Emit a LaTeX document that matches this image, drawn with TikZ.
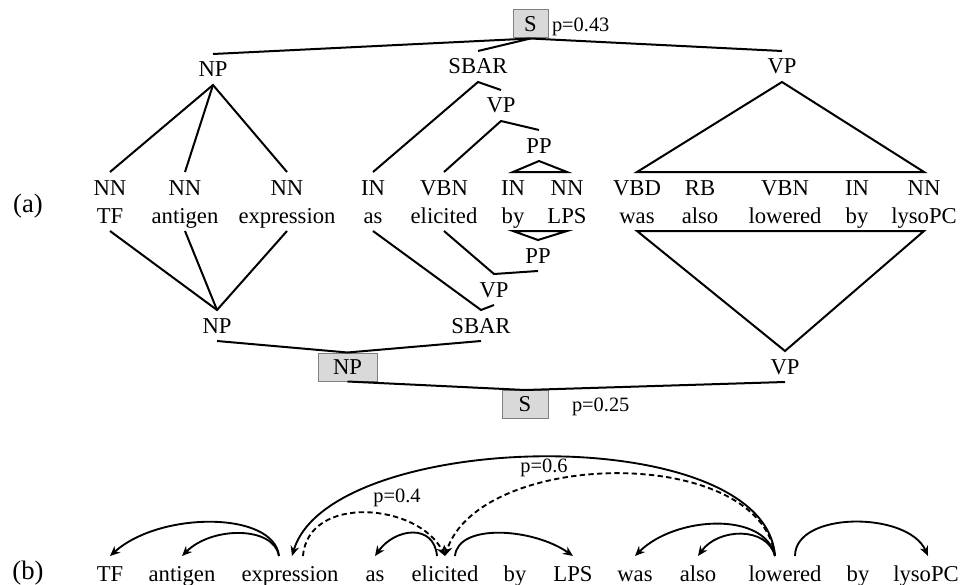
\documentclass[tikz,border=0pt]{standalone}
\usepackage{fontspec}
\setmainfont{Liberation Serif}
\usetikzlibrary{arrows.meta}

\tikzset{every picture/.style={line width=1.5pt}}
\tikzset{
  lbl/.style={anchor=base, inner xsep=1pt, inner ysep=5.25pt, text height=11.25pt, text depth=0pt, font=\fontsize{17}{20}\selectfont},
  wrd/.style={lbl, inner ysep=6.75pt},
  boxnd/.style={draw={rgb, 255:red, 128; green, 128; blue, 128}, line width=0.75pt, fill={rgb, 255:red, 217; green, 217; blue, 217}, minimum height=21pt, inner sep=0pt, font=\fontsize{17}{20}\selectfont},
  plbl/.style={anchor=base west, inner sep=0.75pt, font=\fontsize{15.3}{18}\selectfont},
  deparc/.style={-{Stealth[length=7.5pt,width=6.5pt]}, line width=1.4pt},
  deparcd/.style={deparc, dash pattern=on 4pt off 2.5pt}
}

\begin{document}
\begin{tikzpicture}[x=0.75pt,y=0.75pt,yscale=-1,xscale=1]
\useasboundingbox (0,0) rectangle (960,585);

% Text Node
\draw (28,206) node (lblA) [font=\fontsize{20}{24}\selectfont] {(a)};
\draw (28,573) node (lblB) [font=\fontsize{20}{24}\selectfont] {(b)};

%Shape: Rectangle
\node (sTop) [boxnd, minimum width=26.25pt] at (530.5,24) {S};
\node (npBox) [boxnd, minimum width=44.25pt] at (347.5,367) {NP};
\node (sBot) [boxnd, minimum width=34.5pt] at (525,404.5) {S};
% Text Node
\draw (550,32) node (pTop) [plbl] {p=0.43};
\draw (570,411) node (pBot) [plbl] {p=0.25};

% Text Node - upper phrases
\node (npT) [lbl] at (213,77) {NP};
\node (sbarT) [lbl] at (478,74) {SBAR};
\node (vpT) [lbl] at (782,74) {VP};
\node (vpM) [lbl] at (501,113) {VP};
\node (ppT) [lbl] at (539,153) {PP};

% Text Node - tags
\node (tTF) [lbl] at (110,195) {NN};
\node (tAnt) [lbl] at (185,195) {NN};
\node (tExp) [lbl] at (287,195) {NN};
\node (tAs) [lbl] at (373,195) {IN};
\node (tEli) [lbl] at (444,195) {VBN};
\node (tBy) [lbl] at (513,195) {IN};
\node (tLPS) [lbl] at (567,195) {NN};
\node (tWas) [lbl] at (637,195) {VBD};
\node (tAlso) [lbl] at (700,195) {RB};
\node (tLow) [lbl] at (785,195) {VBN};
\node (tBy2) [lbl] at (857,195) {IN};
\node (tLyso) [lbl] at (924,195) {NN};

% Text Node - words
\node (wTF) [lbl] at (110,223) {TF};
\node (wAnt) [lbl] at (185,223) {antigen};
\node (wExp) [lbl] at (287,223) {expression};
\node (wAs) [lbl] at (373,223) {as};
\node (wEli) [lbl] at (444,223) {elicited};
\node (wBy) [lbl] at (513,223) {by};
\node (wLPS) [lbl] at (567,223) {LPS};
\node (wWas) [lbl] at (637,223) {was};
\node (wAlso) [lbl] at (700,223) {also};
\node (wLow) [lbl] at (785,223) {lowered};
\node (wBy2) [lbl] at (857,223) {by};
\node (wLyso) [lbl] at (924,223) {lysoPC};

% Text Node - lower phrases
\node (ppB) [lbl] at (538,263) {PP};
\node (vpB) [lbl] at (494,297) {VP};
\node (npB) [lbl] at (217,333) {NP};
\node (sbarB) [lbl] at (481,333) {SBAR};
\node (vpR) [lbl] at (785,374) {VP};

%Straight Lines - upper tree
\draw (sTop.south) -- (npT.north);
\draw (sTop.south) -- (sbarT.north);
\draw (sTop.south) -- (vpT.north);
\draw (tTF.north) -- (npT.south) -- (tExp.north);
\draw (npT.south) -- (tAnt.north);
\draw (tAs.north) -- (sbarT.south) -- (vpM.north);
\draw (tEli.north) -- (vpM.south) -- (ppT.north);
\draw (ppT.south) -- (tBy.north) -- (tLPS.north) -- cycle;
\draw (vpT.south) -- (tWas.north) -- (tLyso.north) -- cycle;

%Straight Lines - lower tree
\draw (wTF.south) -- (npB.north) -- (wExp.south);
\draw (wAnt.south) -- (npB.north);
\draw (wAs.south) -- (sbarB.north) -- (vpB.south);
\draw (wEli.south) -- (vpB.north) -- (ppB.south);
\draw (ppB.north) -- (wBy.south) -- (wLPS.south) -- cycle;
\draw (vpR.north) -- (wWas.south) -- (wLyso.south) -- cycle;
\draw (npB.south) -- (npBox.north) -- (sbarB.south);
\draw (npBox.south) -- (sBot.north) -- (vpR.south);

% Text Node - (b) words
\node (bTF) [wrd] at (110,581) {TF};
\node (bAnt) [wrd] at (182,581) {antigen};
\node (bExp) [wrd] at (290,581) {expression};
\node (bAs) [wrd] at (375,581) {as};
\node (bEli) [wrd] at (445,581) {elicited};
\node (bBy) [wrd] at (515,581) {by};
\node (bLPS) [wrd] at (573,581) {LPS};
\node (bWas) [wrd] at (635,581) {was};
\node (bAlso) [wrd] at (698,581) {also};
\node (bLow) [wrd] at (785,581) {lowered};
\node (bBy2) [wrd] at (858,581) {by};
\node (bLyso) [wrd] at (926,581) {lysoPC};

%Curve Lines - dependencies
\draw [deparc] ([shift={(-11,0)}]bExp.north) .. controls +(-5,-45) and +(50,-45) .. (bTF.north);
\draw [deparc] ([shift={(-11,0)}]bExp.north) .. controls +(-5,-30) and +(30,-30) .. (bAnt.north);
\draw [deparc] ([shift={(-10,0)}]bLow.north) .. controls +(-10,-137) and +(38,-127) .. ([shift={(2,0)}]bExp.north);
\draw [deparcd] ([shift={(13,0)}]bExp.north) .. controls +(5,-62) and +(-27,-53) .. (bEli.north);
\draw [deparcd] ([shift={(-10,0)}]bLow.north) .. controls +(-15,-112) and +(35,-107) .. (bEli.north);
\draw [deparc] ([shift={(-8,0)}]bEli.north) .. controls +(-3,-33) and +(20,-28) .. (bAs.north);
\draw [deparc] ([shift={(10,0)}]bEli.north) .. controls +(3,-33) and +(-40,-28) .. (bLPS.north);
\draw [deparc] ([shift={(-10,0)}]bLow.north) .. controls +(-10,-45) and +(40,-40) .. (bWas.north);
\draw [deparc] ([shift={(-10,0)}]bLow.north) .. controls +(-8,-30) and +(20,-28) .. (bAlso.north);
\draw [deparc] ([shift={(10,0)}]bLow.north) .. controls +(0,-45) and +(-20,-45) .. ([shift={(2,0)}]bLyso.north);

% Text Node
\draw (397,498) node (p04) [inner sep=0.75pt, font=\fontsize{15.3}{18}\selectfont] {p=0.4};
\draw (544,468) node (p06) [inner sep=0.75pt, font=\fontsize{15.3}{18}\selectfont] {p=0.6};

\end{tikzpicture}
\end{document}
